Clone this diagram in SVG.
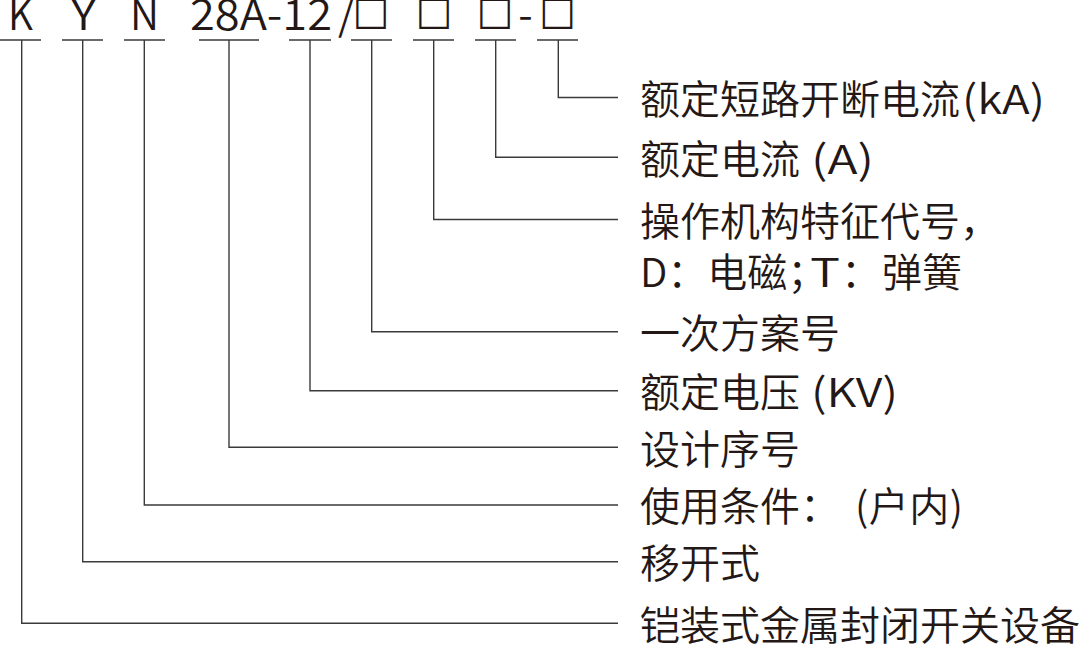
<svg xmlns="http://www.w3.org/2000/svg" width="1088" height="645" viewBox="0 0 1088 645">
<style>
.t{font-family:"Noto Sans CJK SC","Noto Sans",sans-serif;font-size:40px;font-weight:350;fill:#231815}
.h{font-family:"Noto Sans CJK SC","Noto Sans",sans-serif;font-size:42px;font-weight:350;fill:#231815}
.b{font-family:"DejaVu Sans",sans-serif;font-size:39px;fill:#231815}
.c{stroke:#3a3a3a;stroke-width:1.4;fill:none}
</style>
<rect width="1088" height="645" fill="#fff"/>
<g id="code">
<text class="h" x="8" y="29.5" textLength="25" lengthAdjust="spacingAndGlyphs">K</text>
<text class="h" x="71" y="29.5" textLength="25" lengthAdjust="spacingAndGlyphs">Y</text>
<text class="h" x="130" y="29.5" textLength="29" lengthAdjust="spacingAndGlyphs">N</text>
<text class="h" x="190" y="29.5" textLength="142" lengthAdjust="spacingAndGlyphs">28A-12</text>
<text class="h" x="338" y="29.5">/</text>
<text class="b" x="371" y="24" text-anchor="middle">□</text>
<text class="b" x="434" y="24" text-anchor="middle">□</text>
<text class="b" x="495" y="24" text-anchor="middle">□</text>
<text class="h" x="525.5" y="29.5" text-anchor="middle">-</text>
<text class="b" x="557.5" y="24" text-anchor="middle">□</text>
</g>
<g id="connectors" class="c">
<path d="M0 40H41M21.7 40V623.3H618"/>
<path d="M62 40H103M82.7 40V561.7H618"/>
<path d="M124 40H165M144.3 40V505H618"/>
<path d="M199 40H259M229 40V447.3H618"/>
<path d="M289 40H331M310 40V390.7H618"/>
<path d="M351 40H392M371.7 40V331.7H618"/>
<path d="M413 40H454M433.7 40V219.5H618"/>
<path d="M475 40H516M495.7 40V157.3H618"/>
<path d="M537 40H578M558.3 40V97.5H618"/>
</g>
<g id="label-1"><text class="t" x="640" y="114">额定短路开断电流<tspan x="962" textLength="83" lengthAdjust="spacingAndGlyphs">(kA)</tspan></text></g>
<g id="label-2"><text class="t" x="640" y="173.5">额定电流 <tspan x="811" textLength="63" lengthAdjust="spacingAndGlyphs">(A)</tspan></text></g>
<g id="label-3"><text class="t" x="640" y="235.5">操作机构特征代号，</text><text class="t" x="640" y="287">D：电磁；<tspan x="810" textLength="30" lengthAdjust="spacingAndGlyphs">T</tspan><tspan x="841">：</tspan><tspan x="882">弹簧</tspan></text></g>
<g id="label-4"><text class="t" x="640" y="348">一次方案号</text></g>
<g id="label-5"><text class="t" x="640" y="407">额定电压 <tspan x="811" textLength="87" lengthAdjust="spacingAndGlyphs">(KV)</tspan></text></g>
<g id="label-6"><text class="t" x="640" y="463.5">设计序号</text></g>
<g id="label-7"><text class="t" x="640" y="521">使用条件： <tspan x="855" textLength="108" lengthAdjust="spacing">(户内)</tspan></text></g>
<g id="label-8"><text class="t" x="640" y="578">移开式</text></g>
<g id="label-9"><text class="t" x="640" y="639.5">铠装式金属封闭开关设备</text></g>
</svg>
